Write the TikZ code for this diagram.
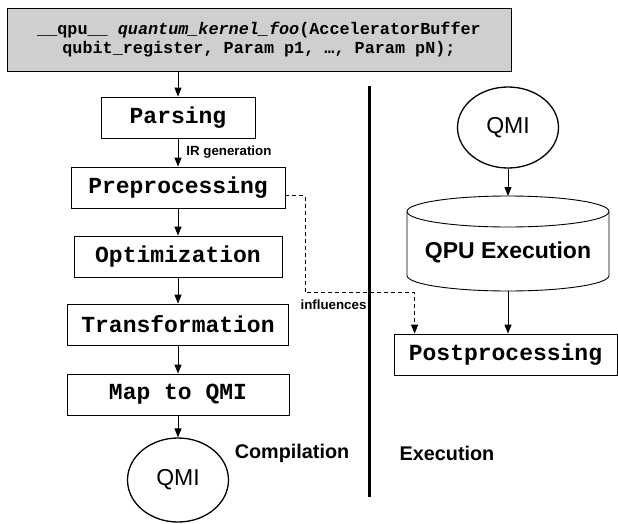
\documentclass[tikz,border=0pt]{standalone}
\usepackage{fontspec}
\setmainfont{Liberation Sans}
\setmonofont{Liberation Mono}
\usetikzlibrary{shapes.geometric,arrows.meta}
\begin{document}
\begin{tikzpicture}[x=1pt,y=-1pt,
  stage/.style={draw, line width=0.8pt, inner sep=0pt, minimum height=41pt, font=\fontsize{23}{27}\selectfont\ttfamily\bfseries},
  qmi/.style={ellipse, draw, line width=1.3pt, inner sep=0pt, minimum width=101pt, font=\fontsize{23}{27}\selectfont},
  lbl/.style={inner sep=0pt, font=\fontsize{13.3}{15}\selectfont\bfseries},
  head/.style={inner sep=0pt, font=\fontsize{19.8}{23}\selectfont\bfseries},
  arr/.style={-{Triangle[length=9pt,width=7pt]}, line width=0.9pt}]
\useasboundingbox (0,0) rectangle (618,523);
% compilation side
\node[draw, line width=0.8pt, fill=black!19, minimum width=504pt, minimum height=63pt, align=center, font=\fontsize{16.8}{19.5}\selectfont\ttfamily\bfseries] (sig) at (259,39.5) {\_\_qpu\_\_ \textit{quantum\_kernel\_foo}(AcceleratorBuffer\\qubit\_register, Param p1, …, Param pN);};
\node[stage, minimum width=154pt] (parse) at (178,117.5) {Parsing};
\node[stage, minimum width=214pt] (prep) at (178,187.5) {Preprocessing};
\node[stage, minimum width=208pt] (opt) at (178,256.5) {Optimization};
\node[stage, minimum width=221pt] (trans) at (178,324.5) {Transformation};
\node[stage, minimum width=222pt] (map) at (178,394.5) {Map to QMI};
\node[qmi, minimum height=84pt] (qmiA) at (178,480) {QMI};
\draw[arr] (parse.north |- sig.south) -- (parse.north);
\draw[arr] (parse) -- node[lbl, right=8pt] {IR generation} (prep);
\draw[arr] (prep) -- (opt);
\draw[arr] (opt) -- (trans);
\draw[arr] (trans) -- (map);
\draw[arr] (map) -- (qmiA);
\node[head] (comp) at (292,453) {Compilation};
% divider
\draw[line width=3pt] (369,86) -- (369,497);
% execution side
\node[qmi, minimum height=81pt] (qmiB) at (508,127.5) {QMI};
\coordinate (cyltop) at (508,196);
\coordinate (cylbot) at (508,291);
\draw[line width=0.9pt] (508,211.5) ellipse [x radius=101, y radius=15.5];
\draw[line width=0.9pt] (407,211.5) -- (407,275.5) arc [start angle=180, end angle=0, x radius=101, y radius=15.5] -- (609,211.5);
\node[inner sep=0pt, font=\fontsize{23}{27}\selectfont\bfseries] (qpu) at (508,252) {QPU Execution};
\node[stage, minimum width=223pt] (post) at (505.5,354.5) {Postprocessing};
\draw[arr] (qmiB) -- (cyltop);
\draw[arr] (cylbot) -- (cylbot |- post.north);
\node[head] (exec) at (447,453) {Execution};
% influences
\draw[arr, dash pattern=on 4pt off 3pt] ([yshift=-8pt]prep.east) -- ++(20,0) -- ++(0,97) -| ([xshift=21pt]post.north west);
\node[lbl] (infl) at (333.5,305) {influences};
\end{tikzpicture}
\end{document}
